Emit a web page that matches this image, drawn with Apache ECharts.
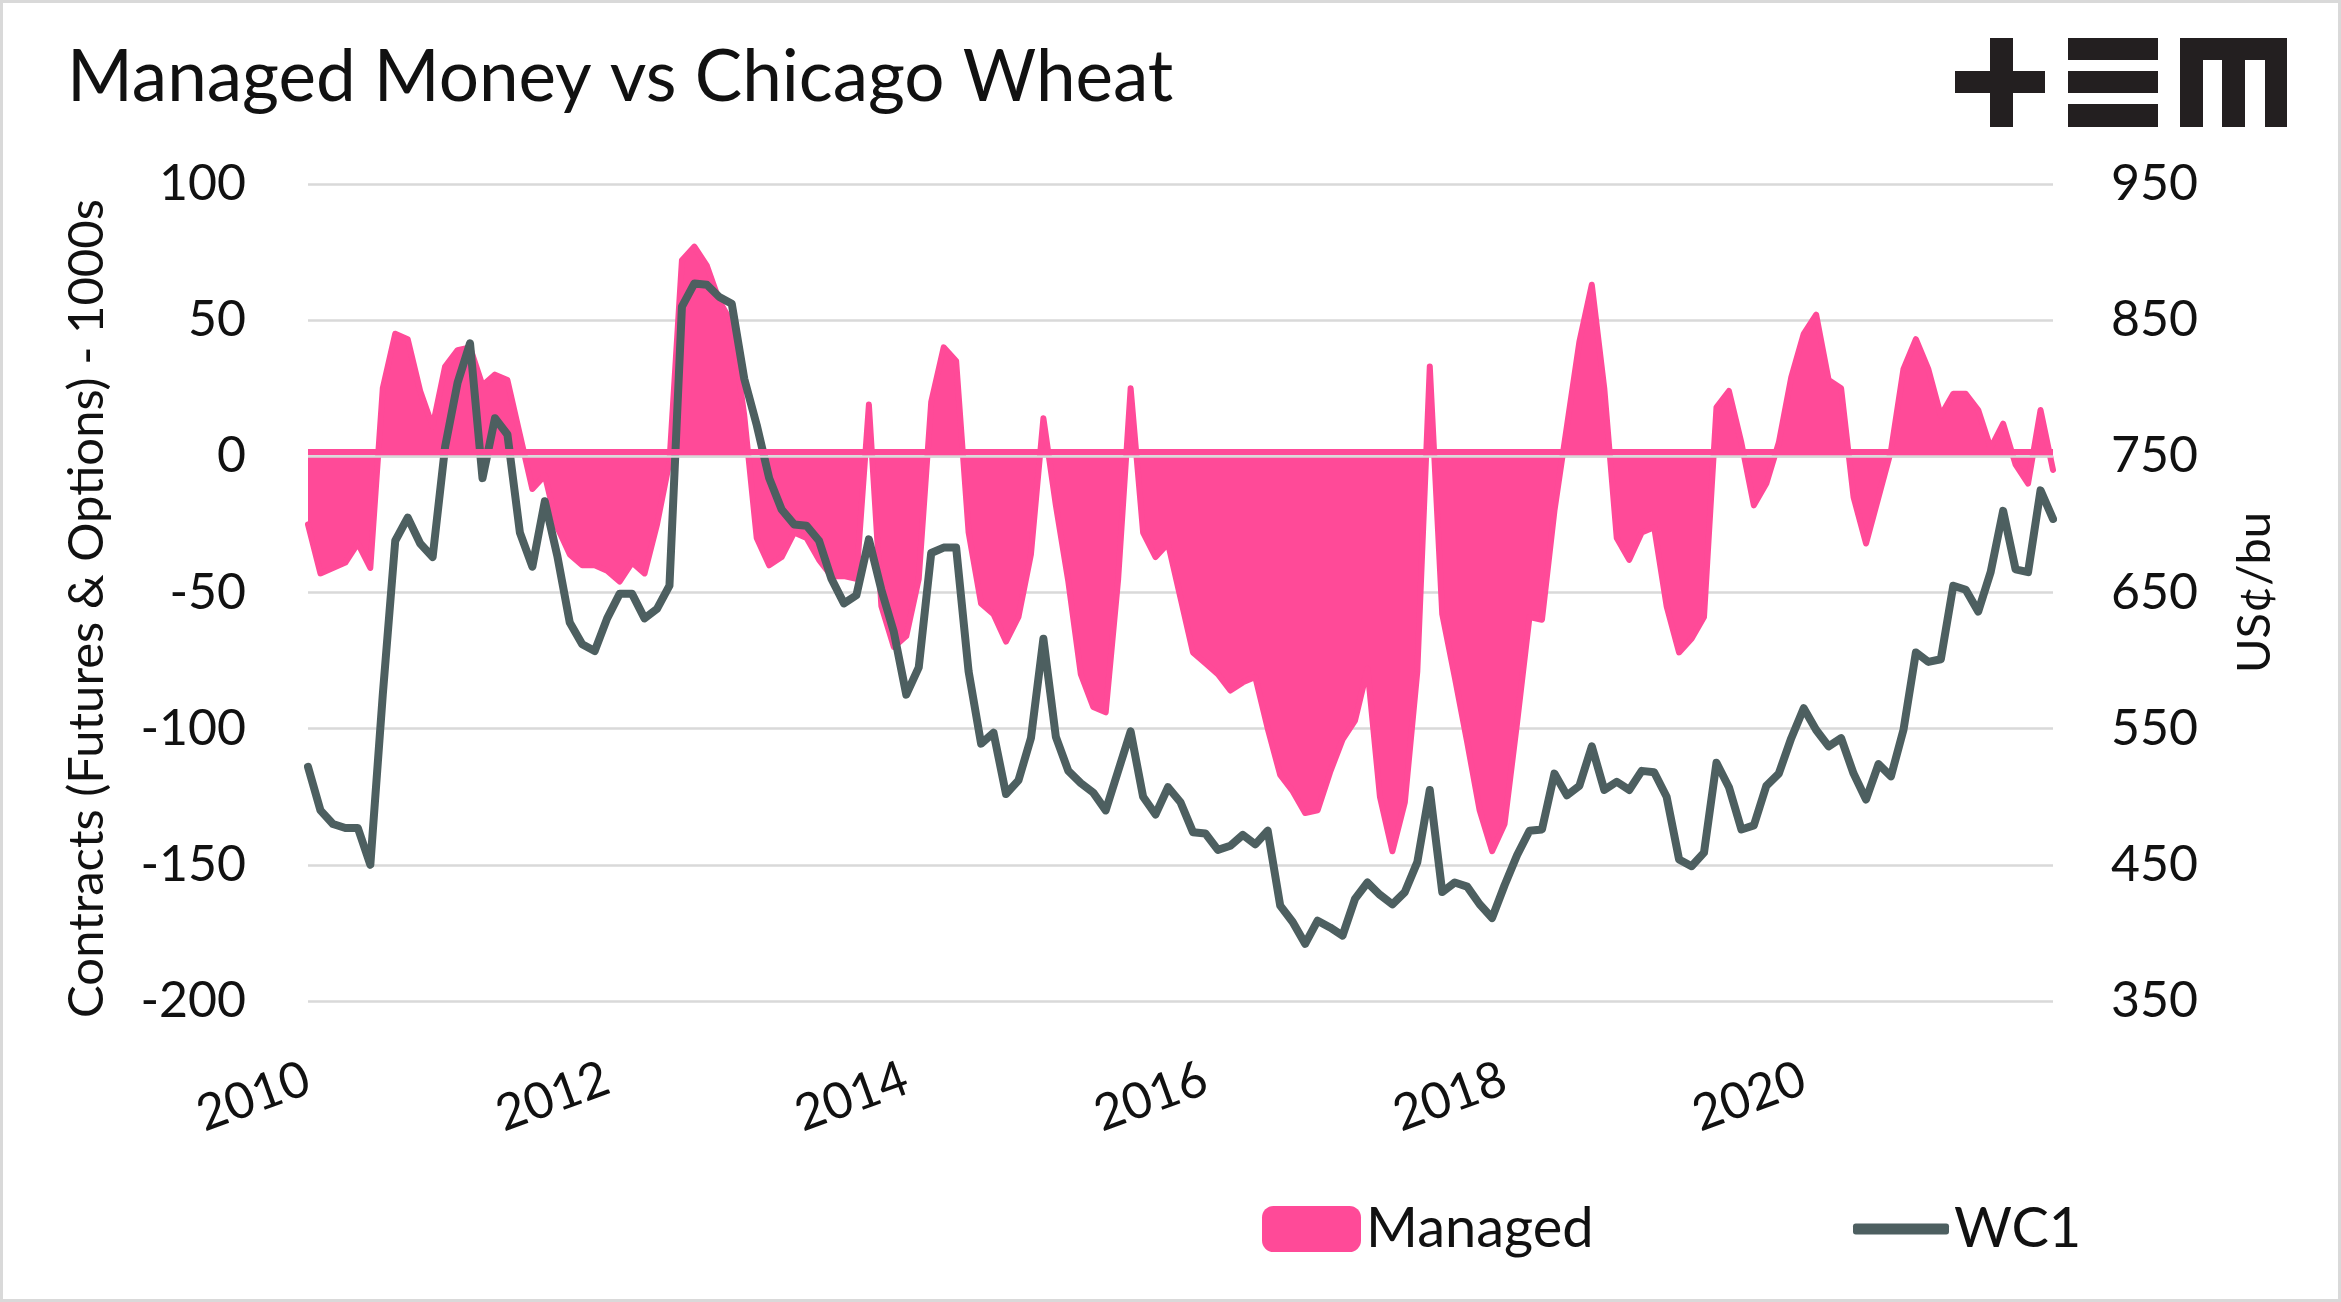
<!DOCTYPE html>
<html>
<head>
<meta charset="utf-8">
<script src="https://cdn.jsdelivr.net/npm/echarts@6/dist/echarts.min.js"></script>
<style>
html,body{margin:0;padding:0;background:#fff;}
#chart{width:2341px;height:1302px;}
</style>
</head>
<body>
<div id="chart"></div>
<script>
// Month categories Jan 2010 .. Sep 2021
const months = [];
for (let y = 2010; y <= 2021; y++) {
  for (let m = 1; m <= 12; m++) {
    if (y === 2021 && m > 9) break;
    months.push(y + '-' + (m < 10 ? '0' + m : m));
  }
}
const yearLabels = ['2010', '2012', '2014', '2016', '2018', '2020'];

// Managed money net position, thousand contracts (left axis)
const managed = [
  -25, -43, -41, -39, -32, -41, 25, 45, 43, 24, 11, 33, 39, 40, 26, 30, 28, 8, -12, -7, -26, -36, -40, -40,
  -42, -46, -39, -43, -25, -2, 72, 77, 70, 57, 49, 15, -30, -40, -37, -28, -30, -38, -44, -44, -45, 19, -55,
  -70, -66, -45, 20, 40, 35, -28, -54, -58, -68, -59, -36, 14, -18, -46, -80, -92, -94, -45, 25, -28, -37, -32, -52,
  -72, -76, -80, -86, -83, -81, -100, -117, -123, -131, -130, -116, -104, -97, -78, -125, -145, -127, -79, 33, -58, -81, -105, -130,
  -145, -135, -98, -59, -60, -20, 11, 42, 63, 25, -30, -38, -28, -26, -55, -72, -67, -59, 18, 24, 5, -18, -10,
  5, 29, 45, 52, 28, 25, -15, -32, -15, 2, 32, 43, 32, 15, 23, 23, 17, 3, 12, -3, -10, 17, -5
];

// Chicago wheat front month, US cents per bushel (right axis)
const wc1 = [
  522, 490, 480, 477, 477, 450, 575, 688, 705, 686, 676, 757, 804, 833, 734, 778, 766, 694, 669, 717, 677, 628, 612, 607,
  631, 649, 649, 631, 638, 655, 860, 877, 876, 867, 862, 807, 773, 734, 711, 700, 699, 688, 660, 642, 648, 689, 652,
  621, 575, 595, 679, 683, 683, 592, 539, 547, 502, 512, 543, 616, 544, 519, 510, 503, 490, 519, 548, 500, 487, 507, 496,
  474, 473, 461, 464, 472, 465, 475, 420, 408, 392, 409, 404, 398, 425, 437, 428, 421, 430, 452, 505, 430, 437, 434, 421,
  411, 435, 457, 475, 476, 517, 501, 508, 537, 505, 511, 505, 519, 518, 500, 454, 449, 459, 525, 507, 476, 479, 508,
  517, 543, 565, 549, 537, 543, 517, 498, 524, 515, 549, 606, 599, 601, 655, 652, 636, 665, 710, 667, 665, 725, 704
];

const leftTicks = [100, 50, 0, -50, -100, -150, -200];
const rightTicks = [950, 850, 750, 650, 550, 450, 350];

const PINK = '#FF4A98';
const SLATE = '#4D5F60';
const GRID = '#D9D9D9';
const FONT = 'Lato';
const INK = '#111111';

const chart = echarts.init(document.getElementById('chart'), null, {renderer: 'canvas'});

const logoColor = '#231F20';
function r(x, y, w, h) {
  return {type: 'rect', shape: {x: x, y: y, width: w, height: h}, style: {fill: logoColor}, silent: true};
}

const option = {
  backgroundColor: '#ffffff',
  animation: false,
  textStyle: {fontFamily: FONT},
  title: {
    text: 'Managed Money vs Chicago Wheat',
    left: 62,
    top: 38,
    textStyle: {fontFamily: FONT, fontSize: 71, fontWeight: 'normal', color: INK}
  },
  graphic: [
    {type: 'rect', shape: {x: 1.5, y: 1.5, width: 2338, height: 1299}, style: {fill: 'none', stroke: GRID, lineWidth: 3}, silent: true},
    // logo "+≡m"
    r(1955, 71, 90, 22), r(1990, 38, 23, 89),
    r(2068, 38, 90, 22), r(2068, 71, 90, 22), r(2068, 104, 90, 23),
    r(2180, 38, 107, 22), r(2180, 38, 23, 89), r(2222, 38, 23, 89), r(2265, 38, 22, 89)
  ],
  legend: [
    {
      data: ['Managed'],
      left: 1257, top: 1196,
      itemWidth: 99, itemHeight: 46,
      icon: 'roundRect',
      textStyle: {fontFamily: FONT, fontSize: 56, color: INK},
      selectedMode: false
    },
    {
      data: [{name: 'WC1', icon: 'roundRect'}],
      left: 1848, top: 1196,
      itemWidth: 96, itemHeight: 11,
      textStyle: {fontFamily: FONT, fontSize: 56, color: INK, lineHeight: 46},
      selectedMode: false
    }
  ],
  grid: {left: 308, right: 288, top: 184, bottom: 301, containLabel: false},
  xAxis: {
    type: 'category',
    data: months,
    boundaryGap: false,
    axisLine: {show: false},
    axisTick: {show: false},
    splitLine: {show: false},
    axisLabel: {
      interval: function (idx) { return idx % 24 === 0; },
      formatter: function (v) { const y = v.slice(0, 4); return yearLabels.indexOf(y) >= 0 ? y : ''; },
      rotate: 20,
      margin: 76,
      fontFamily: FONT,
      fontSize: 50,
      color: INK
    }
  },
  yAxis: [
    {
      type: 'value',
      min: leftTicks[leftTicks.length - 1], max: leftTicks[0], interval: 50,
      position: 'left',
      name: 'Contracts (Futures & Options) - 1000s',
      nameLocation: 'middle',
      nameRotate: 90,
      nameGap: 196,
      nameTextStyle: {fontFamily: FONT, fontSize: 49, color: INK, padding: [0, 32, 0, 0]},
      axisLine: {show: false},
      axisTick: {show: false},
      splitLine: {show: true, lineStyle: {color: GRID, width: 2.5}},
      axisLabel: {margin: 62, fontFamily: FONT, fontSize: 50, color: INK}
    },
    {
      type: 'value',
      min: rightTicks[rightTicks.length - 1], max: rightTicks[0], interval: 100,
      position: 'right',
      name: 'US¢/bu',
      nameLocation: 'middle',
      nameRotate: 90,
      nameGap: 178,
      nameTextStyle: {fontFamily: FONT, fontSize: 47, color: INK},
      axisLine: {show: false},
      axisTick: {show: false},
      splitLine: {show: false},
      axisLabel: {margin: 58, fontFamily: FONT, fontSize: 50, color: INK}
    }
  ],
  series: [
    {
      name: 'Managed',
      type: 'line',
      yAxisIndex: 0,
      data: managed,
      symbol: 'none',
      showSymbol: false,
      z: 2,
      itemStyle: {color: PINK},
      lineStyle: {color: PINK, width: 6, join: 'round', cap: 'round'},
      areaStyle: {color: PINK, opacity: 1, origin: 0},
      markLine: {
        silent: true,
        symbol: ['none', 'none'],
        label: {show: false},
        data: [
          {yAxis: 1.5, lineStyle: {color: PINK, width: 6, type: 'solid'}},
          {yAxis: 0, lineStyle: {color: GRID, width: 2.5, type: 'solid'}}
        ]
      }
    },
    {
      name: 'WC1',
      type: 'line',
      yAxisIndex: 1,
      data: wc1,
      symbol: 'none',
      showSymbol: false,
      z: 3,
      itemStyle: {color: SLATE},
      lineStyle: {color: SLATE, width: 8, join: 'round', cap: 'round'}
    }
  ]
};

chart.setOption(option);
</script>
</body>
</html>
